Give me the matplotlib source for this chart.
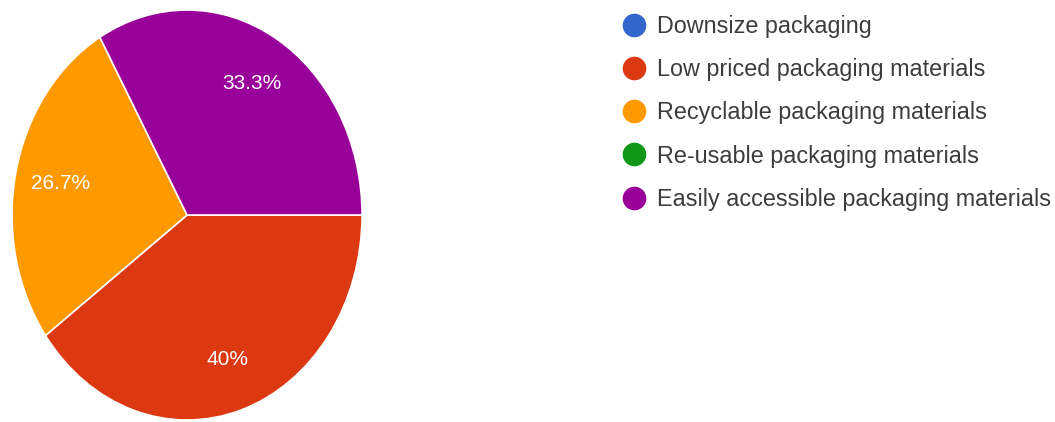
import matplotlib.pyplot as plt
from matplotlib.lines import Line2D

labels = ["Downsize packaging", "Low priced packaging materials",
          "Recyclable packaging materials", "Re-usable packaging materials",
          "Easily accessible packaging materials"]
values = [0, 40, 26.7, 0, 33.3]
colors = ["#3366cc", "#dc3912", "#ff9900", "#109618", "#990099"]

fig = plt.figure(figsize=(10.55, 4.22), dpi=100)

# the source picture is stretched vertically, so the pie is an ellipse
ax = fig.add_axes([0.0114, 0.0047, 0.3318, 0.9716])
shown = [(v, c) for v, c in zip(values, colors) if v > 0]
wedges, texts, autotexts = ax.pie(
    [v for v, c in shown], colors=[c for v, c in shown],
    startangle=0, counterclock=False,
    autopct=lambda p: f"{p:.1f}%".replace(".0%", "%"),
    pctdistance=0.74,
    wedgeprops=dict(edgecolor="white", linewidth=1.2),
    textprops=dict(color="white", fontsize=15, family="Liberation Sans"))
ax.set_xlim(-1, 1)
ax.set_ylim(-1, 1)
ax.set_aspect("auto")

handles = [Line2D([], [], marker="o", linestyle="", markersize=16,
                  markerfacecolor=c, markeredgecolor=c) for c in colors]
fig.legend(handles, labels, loc="upper left", bbox_to_anchor=(0.559, 1.015),
           frameon=False, handletextpad=0.0, labelspacing=0.87,
           prop=dict(family="Liberation Sans", size=16.8), labelcolor="#3c3c3c")

fig.savefig("out.png", dpi=100)
